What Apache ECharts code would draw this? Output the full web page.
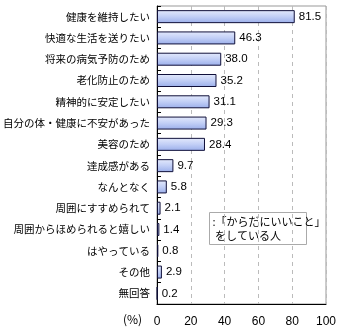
<!DOCTYPE html>
<html>
<head>
<meta charset="utf-8">
<style>
  html, body { margin: 0; padding: 0; background: #fff; }
  #chart { width: 340px; height: 334px; }
</style>
<script src="https://cdn.jsdelivr.net/npm/echarts@6/dist/echarts.min.js"></script>
</head>
<body>
<div id="chart"></div>
<script>
// Reasons for doing something good for one's body (%)
const categories = [
  '健康を維持したい',
  '快適な生活を送りたい',
  '将来の病気予防のため',
  '老化防止のため',
  '精神的に安定したい',
  '自分の体・健康に不安があった',
  '美容のため',
  '達成感がある',
  'なんとなく',
  '周囲にすすめられて',
  '周囲からほめられると嬉しい',
  'はやっている',
  'その他',
  '無回答'
];
const values = [81.5, 46.3, 38.0, 35.2, 31.1, 29.3, 28.4, 9.7, 5.8, 2.1, 1.4, 0.8, 2.9, 0.2];
const xTicks = [0, 20, 40, 60, 80, 100];
const legendLines = [':「からだにいいこと」', ' をしている人'];

const FONT = '"Noto Sans CJK JP", sans-serif';
const chart = echarts.init(document.getElementById('chart'), null, { renderer: 'canvas' });

chart.setOption({
  animation: false,
  backgroundColor: '#fff',
  grid: {
    left: 155, right: 14, top: 6, bottom: 30,
    show: true, borderColor: '#999', borderWidth: 1
  },
  xAxis: {
    type: 'value',
    min: xTicks[0],
    max: xTicks[xTicks.length - 1],
    interval: 20,
    axisLine: { show: true, lineStyle: { color: '#000', width: 1 } },
    axisTick: { show: false },
    axisLabel: { color: '#000', fontSize: 12, fontFamily: 'Arial, "Liberation Sans", sans-serif', margin: 12 },
    splitLine: { show: true, lineStyle: { color: '#bbb', type: [4, 4] } }
  },
  yAxis: {
    type: 'category',
    inverse: true,
    data: categories,
    axisLine: { show: true, lineStyle: { color: '#000', width: 1 } },
    axisTick: { show: true, inside: true, length: 4, lineStyle: { color: '#000' } },
    axisLabel: { color: '#000', fontSize: 10.5, fontFamily: FONT, margin: 7 }
  },
  series: [{
    type: 'bar',
    data: values,
    barWidth: 13,
    itemStyle: {
      color: new echarts.graphic.LinearGradient(0, 0, 0, 1, [
        { offset: 0, color: '#e4eafc' },
        { offset: 0.5, color: '#c2cff6' },
        { offset: 1, color: '#9aaeea' }
      ]),
      borderColor: '#10103a',
      borderWidth: 1
    },
    label: {
      show: true,
      position: 'right',
      distance: 4,
      color: '#000',
      fontSize: 11.5,
      fontFamily: 'Arial, "Liberation Sans", sans-serif',
      formatter: p => p.value.toFixed(1)
    }
  }],
  graphic: [
    {
      type: 'text',
      left: 123, top: 313,
      style: { text: '(%)', fill: '#000', font: '12px ' + FONT }
    },
    {
      type: 'group',
      left: 209, top: 212,
      children: [
        {
          type: 'rect',
          shape: { x: 0, y: 0, width: 97, height: 32 },
          style: { fill: '#fff', stroke: '#aaa', lineWidth: 1 }
        },
        {
          type: 'text',
          x: 3, y: 2,
          style: { text: legendLines.join('\n'), fill: '#000', font: '11px ' + FONT, lineHeight: 14 }
        }
      ]
    }
  ]
});
</script>
</body>
</html>
